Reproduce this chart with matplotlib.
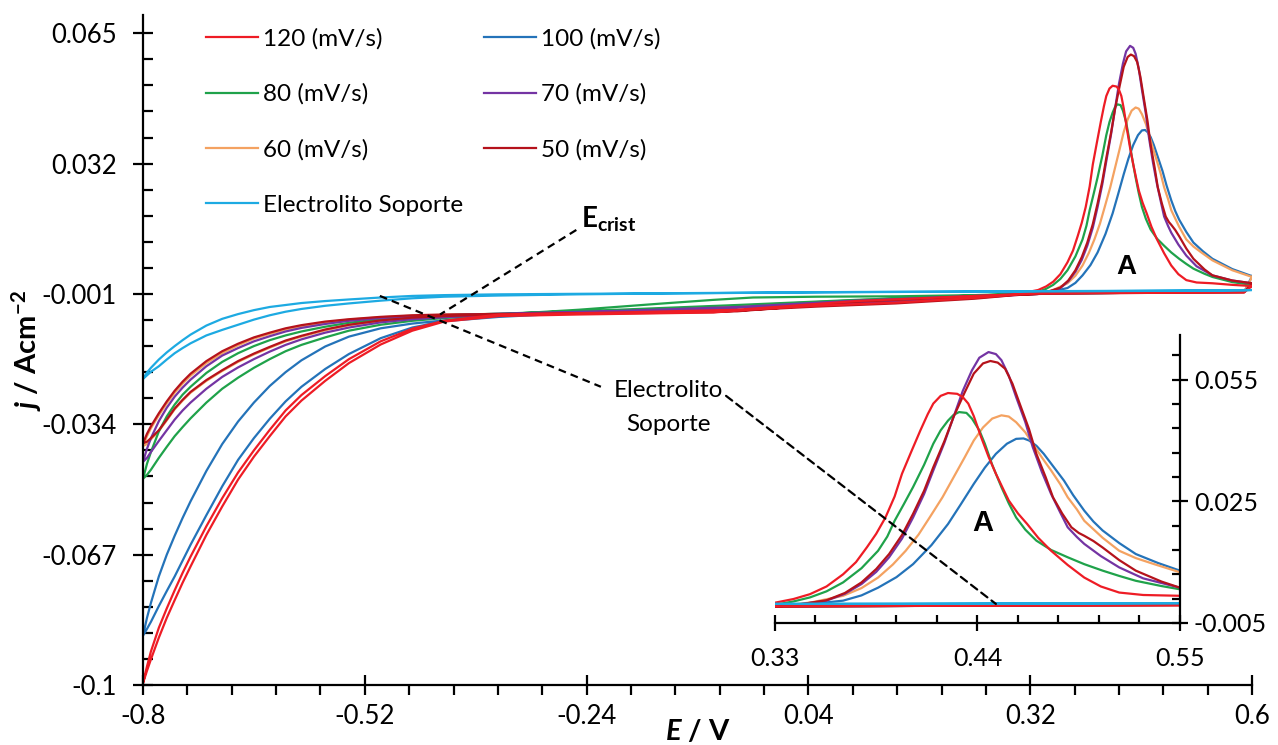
import numpy as np
import matplotlib
matplotlib.use("Agg")
import matplotlib.pyplot as plt
from matplotlib.patches import ConnectionPatch

plt.rcParams["font.family"] = ["Lato", "DejaVu Sans"]
plt.rcParams["mathtext.fontset"] = "custom"
plt.rcParams["mathtext.rm"] = "Lato:bold"
plt.rcParams["mathtext.it"] = "Lato:italic:bold"
plt.rcParams["mathtext.bf"] = "Lato:bold"

# ---- data ----
labels = ["120 (mV/s)", "100 (mV/s)", "80 (mV/s)", "70 (mV/s)",
          "60 (mV/s)", "50 (mV/s)", "Electrolito Soporte"]
colors = ["#EE1C25", "#2473B9", "#1FA24A", "#7434A3",
          "#F4A261", "#B5121B", "#1DAAE2"]

# potential grids shared by all curves
E_RET = [0.6, 0.59, 0.5, 0.4, 0.33, 0.25, 0.1, -0.05, -0.2, -0.35]
E_NEG = [-0.8, -0.795, -0.79, -0.78, -0.77, -0.76, -0.75, -0.74, -0.72, -0.70,
         -0.68, -0.66, -0.64, -0.62, -0.60, -0.57, -0.54, -0.50, -0.46, -0.42]
E_MID = [-0.35, -0.25, -0.15, -0.08, -0.03, 0.05, 0.15, 0.25, 0.30]

# 120 mV/s
ret_120 = [0.0010, -0.0006, -0.0007, -0.0008, -0.0009, -0.0015, -0.0028, -0.0050, -0.0057, -0.0062]
cath_120 = [-0.0995, -0.0953, -0.0915, -0.0855, -0.0806, -0.0760, -0.0716, -0.0675, -0.0598, -0.0527,
            -0.0462, -0.0406, -0.0354, -0.0305, -0.0266, -0.0218, -0.0175, -0.0130, -0.0098, -0.0078]
anod_120 = [-0.0995, -0.0964, -0.0935, -0.0880, -0.0830, -0.0785, -0.0741, -0.0700, -0.0620, -0.0548,
            -0.0480, -0.0422, -0.0370, -0.0320, -0.0280, -0.0230, -0.0185, -0.0138, -0.0103, -0.0080]
mid_120 = [-0.0066, -0.0062, -0.0059, -0.0057, -0.0049, -0.0040, -0.0032, -0.0020, -0.0012]
epk_120 = [0.33, 0.34, 0.349, 0.358, 0.367, 0.374, 0.380, 0.385, 0.390, 0.395, 0.399, 0.404, 0.409,
           0.413, 0.416, 0.420, 0.424, 0.429, 0.432, 0.435, 0.438, 0.442, 0.446, 0.450, 0.454,
           0.457, 0.462, 0.467, 0.473, 0.480, 0.489, 0.498, 0.507, 0.517, 0.53, 0.55, 0.575, 0.6]
jpk_120 = [0.0000, 0.0009, 0.0021, 0.0040, 0.0070, 0.0100, 0.0137, 0.0170, 0.0210, 0.0262, 0.0318,
           0.0372, 0.0425, 0.0465, 0.0491, 0.0510, 0.0517, 0.0515, 0.0507, 0.0491, 0.0460, 0.0408,
           0.0360, 0.0318, 0.0280, 0.0252, 0.0220, 0.0194, 0.0160, 0.0128, 0.0093, 0.0062, 0.0040,
           0.0025, 0.0019, 0.0017, 0.0013, 0.0010]

# 100 mV/s
ret_100 = [0.0035, -0.0005, -0.0006, -0.0008, -0.0009, -0.0014, -0.0026, -0.0040, -0.0052, -0.0063]
cath_100 = [-0.0875, -0.0830, -0.0792, -0.0725, -0.0670, -0.0622, -0.0577, -0.0535, -0.0458, -0.0390,
            -0.0333, -0.0285, -0.0243, -0.0208, -0.0178, -0.0143, -0.0118, -0.0097, -0.0085, -0.0077]
anod_100 = [-0.0875, -0.0858, -0.0840, -0.0800, -0.0762, -0.0725, -0.0685, -0.0645, -0.0570, -0.0497,
            -0.0430, -0.0375, -0.0326, -0.0282, -0.0245, -0.0200, -0.0162, -0.0122, -0.0095, -0.0079]
mid_100 = [-0.0068, -0.0058, -0.0050, -0.0044, -0.0039, -0.0033, -0.0026, -0.0018, -0.0012]
epk_100 = [0.33, 0.35, 0.367, 0.377, 0.386, 0.396, 0.405, 0.415, 0.424, 0.431, 0.438, 0.444, 0.450,
           0.456, 0.461, 0.465, 0.468, 0.472, 0.476, 0.481, 0.487, 0.492, 0.498, 0.503, 0.508,
           0.517, 0.526, 0.538, 0.55, 0.575, 0.6]
jpk_100 = [-0.0010, -0.0003, 0.0005, 0.0018, 0.0037, 0.0063, 0.0095, 0.0142, 0.0194, 0.0243, 0.0293,
           0.0333, 0.0367, 0.0392, 0.0404, 0.0405, 0.0400, 0.0387, 0.0367, 0.0337, 0.0301, 0.0265,
           0.0227, 0.0200, 0.0178, 0.0147, 0.0120, 0.0098, 0.0079, 0.0053, 0.0035]

# 80 mV/s
ret_80 = [0.0013, -0.0005, -0.0006, -0.0008, -0.0009, -0.0014, -0.0025, -0.0038, -0.0050, -0.0060]
cath_80 = [-0.0478, -0.0440, -0.0410, -0.0358, -0.0320, -0.0290, -0.0265, -0.0245, -0.0210, -0.0182,
           -0.0160, -0.0142, -0.0127, -0.0115, -0.0105, -0.0093, -0.0083, -0.0074, -0.0068, -0.0064]
anod_80 = [-0.0478, -0.0468, -0.0455, -0.0425, -0.0397, -0.0370, -0.0347, -0.0325, -0.0285, -0.0250,
           -0.0222, -0.0197, -0.0175, -0.0155, -0.0139, -0.0120, -0.0103, -0.0088, -0.0078, -0.0071]
mid_80 = [-0.0062, -0.0050, -0.0035, -0.0025, -0.0019, -0.0017, -0.0016, -0.0013, -0.0010]
epk_80 = [0.33, 0.34, 0.349, 0.358, 0.367, 0.377, 0.386, 0.391, 0.395, 0.400, 0.405, 0.411, 0.416,
          0.420, 0.424, 0.427, 0.430, 0.434, 0.437, 0.441, 0.444, 0.448, 0.453, 0.457, 0.461,
          0.466, 0.472, 0.480, 0.489, 0.498, 0.508, 0.517, 0.526, 0.54, 0.55, 0.575, 0.6]
jpk_80 = [-0.0005, 0.0003, 0.0013, 0.0028, 0.0050, 0.0085, 0.0128, 0.0163, 0.0202, 0.0243, 0.0285,
          0.0340, 0.0392, 0.0425, 0.0449, 0.0463, 0.0470, 0.0468, 0.0454, 0.0425, 0.0392, 0.0340,
          0.0285, 0.0245, 0.0210, 0.0180, 0.0153, 0.0130, 0.0112, 0.0095, 0.0079, 0.0066, 0.0054,
          0.0041, 0.0033, 0.0020, 0.0013]

# 70 mV/s
ret_70 = [0.0017, -0.0005, -0.0006, -0.0008, -0.0009, -0.0015, -0.0027, -0.0043, -0.0053, -0.0060]
cath_70 = [-0.0435, -0.0402, -0.0375, -0.0332, -0.0298, -0.0270, -0.0247, -0.0227, -0.0193, -0.0166,
           -0.0147, -0.0130, -0.0117, -0.0105, -0.0096, -0.0086, -0.0078, -0.0071, -0.0067, -0.0064]
anod_70 = [-0.0435, -0.0425, -0.0410, -0.0382, -0.0355, -0.0328, -0.0305, -0.0285, -0.0250, -0.0220,
           -0.0196, -0.0175, -0.0156, -0.0139, -0.0125, -0.0108, -0.0095, -0.0082, -0.0074, -0.0069]
mid_70 = [-0.0062, -0.0057, -0.0052, -0.0048, -0.0043, -0.0037, -0.0030, -0.0020, -0.0013]
epk_70 = [0.33, 0.345, 0.358, 0.368, 0.377, 0.385, 0.392, 0.399, 0.405, 0.411, 0.416, 0.422, 0.427,
          0.432, 0.437, 0.441, 0.446, 0.450, 0.453, 0.457, 0.461, 0.466, 0.470, 0.475, 0.480,
          0.485, 0.489, 0.494, 0.498, 0.507, 0.517, 0.53, 0.55, 0.575, 0.6]
jpk_70 = [-0.0010, -0.0003, 0.0005, 0.0022, 0.0046, 0.0076, 0.0112, 0.0158, 0.0210, 0.0268, 0.0326,
          0.0394, 0.0458, 0.0522, 0.0573, 0.0604, 0.0618, 0.0613, 0.0598, 0.0560, 0.0507, 0.0445,
          0.0384, 0.0322, 0.0268, 0.0222, 0.0186, 0.0162, 0.0145, 0.0115, 0.0087, 0.0060, 0.0037,
          0.0024, 0.0017]

# 60 mV/s
ret_60 = [0.0033, -0.0005, -0.0006, -0.0008, -0.0009, -0.0015, -0.0026, -0.0041, -0.0052, -0.0060]
cath_60 = [-0.0395, -0.0370, -0.0350, -0.0317, -0.0287, -0.0260, -0.0237, -0.0217, -0.0185, -0.0160,
           -0.0140, -0.0123, -0.0111, -0.0100, -0.0092, -0.0082, -0.0075, -0.0069, -0.0065, -0.0063]
anod_60 = [-0.0395, -0.0390, -0.0378, -0.0357, -0.0330, -0.0302, -0.0280, -0.0260, -0.0230, -0.0205,
           -0.0182, -0.0163, -0.0146, -0.0130, -0.0118, -0.0102, -0.0089, -0.0078, -0.0071, -0.0067]
mid_60 = [-0.0061, -0.0055, -0.0050, -0.0045, -0.0040, -0.0034, -0.0028, -0.0019, -0.0012]
epk_60 = [0.33, 0.35, 0.367, 0.377, 0.386, 0.394, 0.401, 0.408, 0.414, 0.421, 0.427, 0.433, 0.438,
          0.443, 0.448, 0.453, 0.457, 0.461, 0.466, 0.470, 0.475, 0.480, 0.485, 0.489, 0.494,
          0.498, 0.508, 0.517, 0.526, 0.536, 0.55, 0.575, 0.6]
jpk_60 = [-0.0010, 0.0001, 0.0017, 0.0036, 0.0062, 0.0094, 0.0128, 0.0168, 0.0210, 0.0260, 0.0309,
          0.0358, 0.0400, 0.0432, 0.0454, 0.0462, 0.0459, 0.0445, 0.0420, 0.0392, 0.0358, 0.0326,
          0.0292, 0.0260, 0.0230, 0.0202, 0.0160, 0.0128, 0.0110, 0.0095, 0.0075, 0.0050, 0.0033]

# 50 mV/s
ret_50 = [0.0017, -0.0006, -0.0007, -0.0008, -0.0010, -0.0016, -0.0030, -0.0054, -0.0058, -0.0061]
cath_50 = [-0.0388, -0.0364, -0.0345, -0.0312, -0.0282, -0.0255, -0.0232, -0.0212, -0.0180, -0.0155,
           -0.0136, -0.0120, -0.0108, -0.0097, -0.0089, -0.0080, -0.0074, -0.0068, -0.0064, -0.0062]
anod_50 = [-0.0388, -0.0384, -0.0375, -0.0355, -0.0328, -0.0300, -0.0278, -0.0258, -0.0228, -0.0203,
           -0.0180, -0.0161, -0.0144, -0.0128, -0.0116, -0.0100, -0.0088, -0.0077, -0.0070, -0.0066]
mid_50 = [-0.0062, -0.0060, -0.0058, -0.0056, -0.0050, -0.0042, -0.0034, -0.0022, -0.0013]
epk_50 = [0.33, 0.345, 0.358, 0.368, 0.377, 0.385, 0.392, 0.399, 0.405, 0.411, 0.416, 0.422, 0.427,
          0.433, 0.438, 0.443, 0.447, 0.451, 0.455, 0.459, 0.463, 0.468, 0.472, 0.477, 0.481,
          0.486, 0.491, 0.495, 0.498, 0.503, 0.508, 0.517, 0.526, 0.54, 0.55, 0.575, 0.6]
jpk_50 = [-0.0010, -0.0003, 0.0006, 0.0024, 0.0050, 0.0083, 0.0120, 0.0167, 0.0219, 0.0276, 0.0334,
          0.0398, 0.0458, 0.0518, 0.0565, 0.0590, 0.0596, 0.0592, 0.0577, 0.0540, 0.0490, 0.0428,
          0.0367, 0.0310, 0.0260, 0.0220, 0.0186, 0.0172, 0.0165, 0.0152, 0.0136, 0.0105, 0.0079,
          0.0052, 0.0037, 0.0024, 0.0017]

# Electrolito soporte
ret_es = [0.0000, -0.0001, -0.0002, -0.0003, -0.0003, -0.0004, -0.0005, -0.0007, -0.0009, -0.0011]
cath_es = [-0.0225, -0.0209, -0.0197, -0.0176, -0.0158, -0.0142, -0.0127, -0.0113, -0.0090, -0.0073,
           -0.0061, -0.0051, -0.0043, -0.0038, -0.0033, -0.0028, -0.0024, -0.0019, -0.0015, -0.0013]
anod_es = [-0.0225, -0.0216, -0.0207, -0.0193, -0.0176, -0.0160, -0.0147, -0.0135, -0.0115, -0.0101,
           -0.0088, -0.0075, -0.0064, -0.0055, -0.0048, -0.0040, -0.0034, -0.0027, -0.0021, -0.0017]
mid_es = [-0.0014, -0.0011, -0.0009, -0.0008, -0.0007, -0.0006, -0.0005, -0.0004, -0.0004]
epk_es = [0.33, 0.45, 0.55, 0.6]
jpk_es = [-0.0003, -0.0002, -0.0001, 0.0000]

y_ticks = [-0.1, -0.067, -0.034, -0.001, 0.032, 0.065]
y_ticklabels = ["-0.1", "-0.067", "-0.034", "-0.001", "0.032", "0.065"]
x_ticks = [-0.8, -0.52, -0.24, 0.04, 0.32, 0.6]
x_ticklabels = ["-0.8", "-0.52", "-0.24", "0.04", "0.32", "0.6"]
in_x_ticks = [0.33, 0.44, 0.55]
in_x_ticklabels = ["0.33", "0.44", "0.55"]
in_y_ticks = [-0.005, 0.025, 0.055]
in_y_ticklabels = ["-0.005", "0.025", "0.055"]


def loop(j_ret, j_cath, j_anod, j_mid, e_pk, j_pk):
    """Join the branches of one voltammogram into a single path."""
    e = E_RET + E_NEG[::-1] + E_NEG[1:] + E_MID + e_pk
    j = j_ret + j_cath[::-1] + j_anod[1:] + j_mid + j_pk
    return e, j


curves = [
    loop(ret_120, cath_120, anod_120, mid_120, epk_120, jpk_120),
    loop(ret_100, cath_100, anod_100, mid_100, epk_100, jpk_100),
    loop(ret_80, cath_80, anod_80, mid_80, epk_80, jpk_80),
    loop(ret_70, cath_70, anod_70, mid_70, epk_70, jpk_70),
    loop(ret_60, cath_60, anod_60, mid_60, epk_60, jpk_60),
    loop(ret_50, cath_50, anod_50, mid_50, epk_50, jpk_50),
    loop(ret_es, cath_es, anod_es, mid_es, epk_es, jpk_es),
]
draw_order = [1, 4, 2, 3, 5, 0, 6]

fig = plt.figure(figsize=(12.78, 7.45), dpi=100)
ax = fig.add_axes([0.1119, 0.0805, 0.8678, 0.8993])
ax_in = fig.add_axes([0.6064, 0.1638, 0.3169, 0.3865])
ax_in.patch.set_alpha(0)

lines = {}
for i in draw_order:
    e, j = curves[i]
    lines[i], = ax.plot(e, j, color=colors[i], lw=1.6, label=labels[i],
                        solid_joinstyle="round")
    ax_in.plot(e, j, color=colors[i], lw=1.6, solid_joinstyle="round")

# main axes styling
ax.set_xlim(-0.8, 0.6)
ax.set_ylim(-0.1, 0.0696)
for s in ["top", "right"]:
    ax.spines[s].set_visible(False)
for s in ["left", "bottom"]:
    ax.spines[s].set_linewidth(1.6)
ax.set_xticks(x_ticks)
ax.set_xticklabels(x_ticklabels)
ax.set_yticks(y_ticks)
ax.set_yticklabels(y_ticklabels)
ax.set_xticks(np.arange(-0.8, 0.61, 0.056), minor=True)
ax.set_yticks(np.arange(-0.1, 0.069, 0.0066), minor=True)
ax.tick_params(which="major", direction="inout", length=14, width=1.6,
               labelsize=18.5, color="black")
ax.tick_params(axis="x", which="major", pad=7)
ax.tick_params(axis="y", which="major", pad=12)
ax.tick_params(axis="x", which="minor", direction="out", length=7, width=1.6)
ax.tick_params(axis="y", which="minor", direction="in", length=7, width=1.6)
ax.set_xlabel(r"$E$ / V", fontsize=21, fontweight="bold", labelpad=-8)
ax.set_ylabel(r"$j$ / Acm$^{-2}$", fontsize=21, fontweight="bold", labelpad=-2)

# inset styling
ax_in.set_xlim(0.33, 0.55)
ax_in.set_ylim(-0.005, 0.066)
for s in ["top", "left"]:
    ax_in.spines[s].set_visible(False)
for s in ["right", "bottom"]:
    ax_in.spines[s].set_linewidth(1.6)
ax_in.yaxis.tick_right()
ax_in.set_xticks(in_x_ticks)
ax_in.set_xticklabels(in_x_ticklabels)
ax_in.set_yticks(in_y_ticks)
ax_in.set_yticklabels(in_y_ticklabels)
ax_in.set_xticks(np.arange(0.33, 0.551, 0.022), minor=True)
ax_in.set_yticks(np.arange(-0.005, 0.0661, 0.006), minor=True)
ax_in.tick_params(which="major", direction="inout", length=12, width=1.6, labelsize=18)
ax_in.tick_params(axis="x", which="major", pad=11)
ax_in.tick_params(axis="y", which="major", pad=4)
ax_in.tick_params(which="minor", direction="in", length=6, width=1.6)

# legend: two columns, filled column by column
order = [0, 2, 4, 6, 1, 3, 5]
ax.legend([lines[i] for i in order], [labels[i] for i in order], ncol=2,
          frameon=False, loc="upper left",
          bbox_to_anchor=(206 / 1278, 1 - 28 / 745), bbox_transform=fig.transFigure,
          fontsize=17.5, handlelength=2.15, handletextpad=0.2, labelspacing=1.4,
          columnspacing=0.85, borderpad=0, borderaxespad=0)

# annotations
dash = dict(color="black", lw=1.6, dashes=(3.5, 2.3))
ax.text(-0.247, 0.0178, r"E$_{\mathrm{crist}}$", fontsize=20, fontweight="bold",
        ha="left", va="center")
ax.plot([-0.253, -0.425], [0.0152, -0.0062], **dash)
ax.plot([-0.501, -0.222], [-0.0015, -0.0245], **dash)
ax.text(-0.137, -0.0297, "Electrolito\nSoporte", fontsize=17.5, ha="center",
        va="center", linespacing=1.75)
ax.text(0.441, 0.0058, "A", fontsize=20, fontweight="bold", ha="center",
        va="center", family=["Liberation Sans", "DejaVu Sans"])
ax_in.text(0.443, 0.0196, "A", fontsize=21, fontweight="bold", ha="center",
           va="center", family=["Liberation Sans", "DejaVu Sans"])
con = ConnectionPatch(xyA=(-0.064, -0.0268), coordsA=ax.transData,
                      xyB=(0.45, -0.0003), coordsB=ax_in.transData,
                      color="black", lw=1.6, linestyle=(0, (3.5, 2.3)))
fig.add_artist(con)

fig.savefig("out.png", dpi=100)
